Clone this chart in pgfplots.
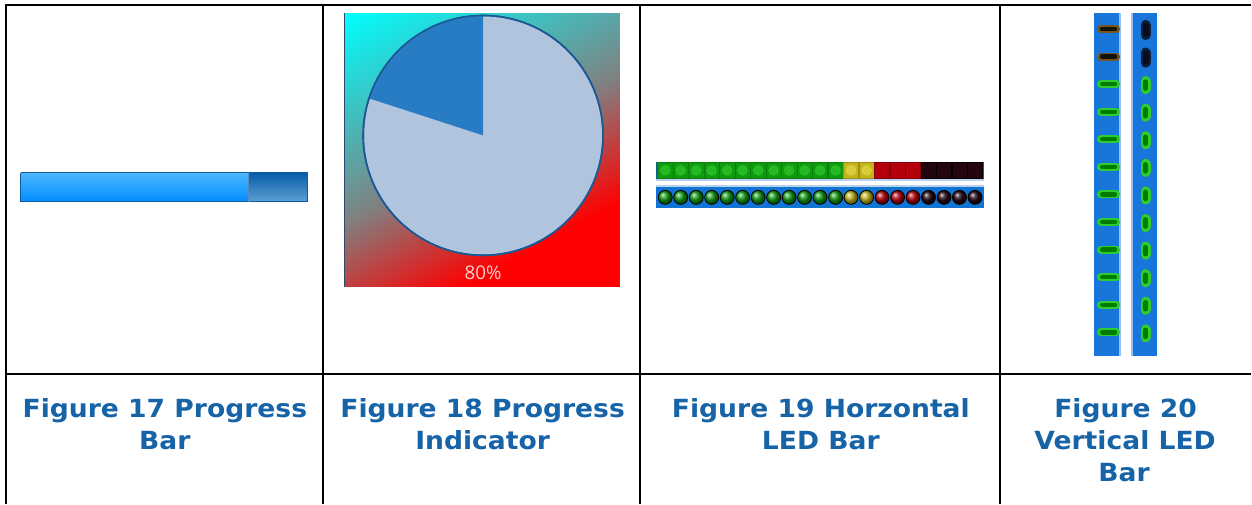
\documentclass[border=0pt]{standalone}
\usepackage{pgfplots}
\pgfplotsset{compat=1.18}
\usepackage{fontspec}
\newfontfamily\capfont{DejaVu Sans}[FakeStretch=1.064]
\newfontfamily\uifont{Open Sans}
\definecolor{capblue}{RGB}{22,99,168}
\definecolor{pbtop}{RGB}{78,182,255}
\definecolor{pbbot}{RGB}{0,142,255}
\definecolor{pbrtop}{RGB}{8,92,168}
\definecolor{pbrbot}{RGB}{95,160,212}
\definecolor{pbedge}{RGB}{16,90,160}
\definecolor{pielight}{RGB}{176,196,222}
\definecolor{piering}{RGB}{28,88,148}
\definecolor{slicecol}{RGB}{40,124,196}
\definecolor{pieedge}{RGB}{50,70,110}
\definecolor{pcttext}{RGB}{245,208,208}
\definecolor{rowbga}{RGB}{24,96,140}
\definecolor{rowbgb}{RGB}{18,116,210}
\definecolor{rowlight}{RGB}{185,208,240}
\definecolor{ledgreen}{RGB}{15,155,15}
\definecolor{ledgreenhi}{RGB}{55,205,50}
\definecolor{ledyellow}{RGB}{195,180,25}
\definecolor{ledyellowhi}{RGB}{230,220,80}
\definecolor{ledred}{RGB}{180,0,10}
\definecolor{ledblack}{RGB}{35,5,15}
\definecolor{vbg}{RGB}{24,118,218}
\definecolor{vedge}{RGB}{150,195,245}
\definecolor{glow}{RGB}{45,205,45}
\definecolor{core}{RGB}{0,125,0}
\definecolor{darkglow}{RGB}{120,85,25}
\definecolor{darkcore}{RGB}{20,18,12}
\definecolor{navyglow}{RGB}{12,32,62}
\definecolor{navycore}{RGB}{5,14,30}
\tikzset{captext/.style={anchor=base, text=capblue, font=\capfont\bfseries\fontsize{12.5pt}{16pt}\selectfont}}
\begin{document}
\begin{tikzpicture}
\begin{axis}[
  width=626pt, height=252pt, scale only axis,
  xmin=0, xmax=1252, ymin=0, ymax=504, y dir=reverse,
  hide axis, clip=false, clip marker paths=true,
]
% page background
\addplot[fill=white, draw=none] coordinates {(0,0) (1252,0) (1252,504) (0,504)};
% table rules
\addplot[black, line width=1pt] coordinates {(6.5,504) (6.5,5) (1252,5)};
\addplot[black, line width=1pt] coordinates {(6.5,374.5) (1252,374.5)};
\addplot[black, line width=1pt] coordinates {(323.5,5) (323.5,504)};
\addplot[black, line width=1pt] coordinates {(641,5) (641,504)};
\addplot[black, line width=1pt] coordinates {(1001,5) (1001,504)};
% ---- Figure 17: progress bar
\addplot[draw=none, top color=pbtop, bottom color=pbbot] coordinates {(21,173) (249,173) (249,202) (21,202)};
\addplot[draw=none, top color=pbrtop, bottom color=pbrbot] coordinates {(249,173) (308,173) (308,202) (249,202)};
\addplot[draw=pbedge, line width=0.5pt] coordinates {(21,173) (308,173) (308,202) (21,202) (21,173)};
\addplot[draw=pbedge!70, line width=0.5pt] coordinates {(249,174) (249,202)};
% ---- Figure 18: progress indicator
\addplot[surf, shader=interp, mesh/rows=2, mesh/cols=2, point meta=explicit,
  point meta min=0, point meta max=1,
  colormap={piebg}{rgb255(0cm)=(0,255,255) rgb255(5cm)=(128,128,128) rgb255(8cm)=(255,0,0) rgb255(10cm)=(255,0,0)}]
  table[meta=c] {
x y c
344 13 0
620 13 0.35
344 287 0.65
620 287 1
};
\addplot[draw=pieedge, line width=0.6pt] coordinates {(345,13) (345,287)};
\addplot[only marks, mark=*, mark size=60pt, mark options={fill=pielight, draw=piering, line width=0.8pt}] coordinates {(483.5,135.5)};
\addplot[draw=none, fill=slicecol] coordinates {(483.5,135.5) (483.5,15.5) (470.96,16.16) (458.55,18.13) (446.42,21.37) (434.69,25.88) (423.5,31.58) (412.97,38.42) (403.21,46.33) (394.33,55.21) (386.42,64.96) (379.58,75.5) (373.88,86.70) (369.37,98.42) (483.5,135.5)};
\addplot[only marks, mark=o, mark size=60pt, mark options={draw=piering, line width=0.8pt}] coordinates {(483.5,135.5)};
\node[anchor=base, text=pcttext, font=\uifont\fontsize{9.4pt}{11pt}\selectfont] at (axis cs:483.5,280) {80\%};
% ---- Figure 19: horizontal LED bars
\addplot[draw=none, fill=rowbga] coordinates {(657,162) (985,162) (985,179) (657,179)};
\addplot[draw=rowlight, line width=1pt] coordinates {(657,180) (985,180)};
\addplot[draw=rowlight, line width=1pt] coordinates {(657,186) (985,186)};
\addplot[draw=none, fill=rowbgb] coordinates {(657,187) (985,187) (985,208) (657,208)};
% row 1 (square LEDs)
\addplot[only marks, mark=square*, mark size=3.85pt, mark options={fill=ledgreen, draw=ledgreen!80!black, line width=0.3pt}] coordinates {(665.75,170.5) (681.25,170.5) (696.75,170.5) (712.25,170.5) (727.75,170.5) (743.25,170.5) (758.75,170.5) (774.25,170.5) (789.75,170.5) (805.25,170.5) (820.75,170.5) (836.25,170.5)};
\addplot[only marks, mark=square*, mark size=3.85pt, mark options={fill=ledyellow, draw=ledyellow!80!black, line width=0.3pt}] coordinates {(851.75,170.5) (867.25,170.5)};
\addplot[only marks, mark=square*, mark size=3.85pt, mark options={fill=ledred, draw=ledred!75!black, line width=0.3pt}] coordinates {(882.75,170.5) (898.25,170.5) (913.75,170.5)};
\addplot[only marks, mark=square*, mark size=3.85pt, mark options={fill=ledblack, draw=black, line width=0.3pt}] coordinates {(929.25,170.5) (944.75,170.5) (960.25,170.5) (975.75,170.5)};
\addplot[only marks, mark=*, mark size=2.6pt, mark options={fill=ledgreenhi, draw=ledgreenhi, line width=0.1pt, opacity=0.6}] coordinates {(665.75,170.5) (681.25,170.5) (696.75,170.5) (712.25,170.5) (727.75,170.5) (743.25,170.5) (758.75,170.5) (774.25,170.5) (789.75,170.5) (805.25,170.5) (820.75,170.5) (836.25,170.5)};
\addplot[only marks, mark=*, mark size=2.6pt, mark options={fill=ledyellowhi, draw=ledyellowhi, line width=0.1pt, opacity=0.6}] coordinates {(851.75,170.5) (867.25,170.5)};
% row 2 (round LEDs)
\addplot[only marks, mark=ball, mark size=3.5pt, mark options={ball color=ledgreen}] coordinates {(665.75,197.5) (681.25,197.5) (696.75,197.5) (712.25,197.5) (727.75,197.5) (743.25,197.5) (758.75,197.5) (774.25,197.5) (789.75,197.5) (805.25,197.5) (820.75,197.5) (836.25,197.5)};
\addplot[only marks, mark=ball, mark size=3.5pt, mark options={ball color=ledyellow}] coordinates {(851.75,197.5) (867.25,197.5)};
\addplot[only marks, mark=ball, mark size=3.5pt, mark options={ball color=ledred}] coordinates {(882.75,197.5) (898.25,197.5) (913.75,197.5)};
\addplot[only marks, mark=ball, mark size=3.5pt, mark options={ball color=ledblack}] coordinates {(929.25,197.5) (944.75,197.5) (960.25,197.5) (975.75,197.5)};
% ---- Figure 20: vertical LED bars
\addplot[draw=none, fill=vbg] coordinates {(1095,13) (1122,13) (1122,356) (1095,356)};
\addplot[draw=none, fill=vbg] coordinates {(1132,13) (1158,13) (1158,356) (1132,356)};
\addplot[draw=vedge, line width=0.75pt] coordinates {(1121,13) (1121,356)};
\addplot[draw=vedge, line width=0.75pt] coordinates {(1133,13) (1133,356)};
% left column: horizontal dashes
\addplot[only marks, mark=-, mark size=3.8pt, mark options={draw=darkglow, line width=4pt, line cap=round}] coordinates {(1109.5,29) (1109.5,56.6)};
\addplot[only marks, mark=-, mark size=3.2pt, mark options={draw=darkcore, line width=2.4pt, line cap=round}] coordinates {(1109.5,29) (1109.5,56.6)};
\addplot[only marks, mark=-, mark size=3.8pt, mark options={draw=glow, line width=4pt, line cap=round}] coordinates {(1109.5,84.2) (1109.5,111.8) (1109.5,139.4) (1109.5,167) (1109.5,194.6) (1109.5,222.2) (1109.5,249.8) (1109.5,277.4) (1109.5,305) (1109.5,332.6)};
\addplot[only marks, mark=-, mark size=3.2pt, mark options={draw=core, line width=2.2pt, line cap=round}] coordinates {(1109.5,84.2) (1109.5,111.8) (1109.5,139.4) (1109.5,167) (1109.5,194.6) (1109.5,222.2) (1109.5,249.8) (1109.5,277.4) (1109.5,305) (1109.5,332.6)};
% right column: vertical ovals
\addplot[only marks, mark=|, mark size=2.5pt, mark options={draw=navyglow, line width=5pt, line cap=round}] coordinates {(1146.5,30) (1146.5,57.6)};
\addplot[only marks, mark=|, mark size=2pt, mark options={draw=navycore, line width=3pt, line cap=round}] coordinates {(1146.5,30) (1146.5,57.6)};
\addplot[only marks, mark=|, mark size=2pt, mark options={draw=glow, line width=5pt, line cap=round}] coordinates {(1146.5,85.2) (1146.5,112.8) (1146.5,140.4) (1146.5,168) (1146.5,195.6) (1146.5,223.2) (1146.5,250.8) (1146.5,278.4) (1146.5,306) (1146.5,333.6)};
\addplot[only marks, mark=|, mark size=1.5pt, mark options={draw=core, line width=2.8pt, line cap=round}] coordinates {(1146.5,85.2) (1146.5,112.8) (1146.5,140.4) (1146.5,168) (1146.5,195.6) (1146.5,223.2) (1146.5,250.8) (1146.5,278.4) (1146.5,306) (1146.5,333.6)};
% ---- captions
\node[captext] at (axis cs:165,417.5) {Figure 17 Progress};
\node[captext] at (axis cs:165,449.5) {Bar};
\node[captext] at (axis cs:483,417.5) {Figure 18 Progress};
\node[captext] at (axis cs:483,449.5) {Indicator};
\node[captext] at (axis cs:821.5,417.5) {Figure 19 Horzontal};
\node[captext] at (axis cs:821.5,449.5) {LED Bar};
\node[captext] at (axis cs:1126.5,417.5) {Figure 20};
\node[captext] at (axis cs:1126,449.5) {Vertical LED};
\node[captext] at (axis cs:1125,481.5) {Bar};
\end{axis}
\end{tikzpicture}
\end{document}
